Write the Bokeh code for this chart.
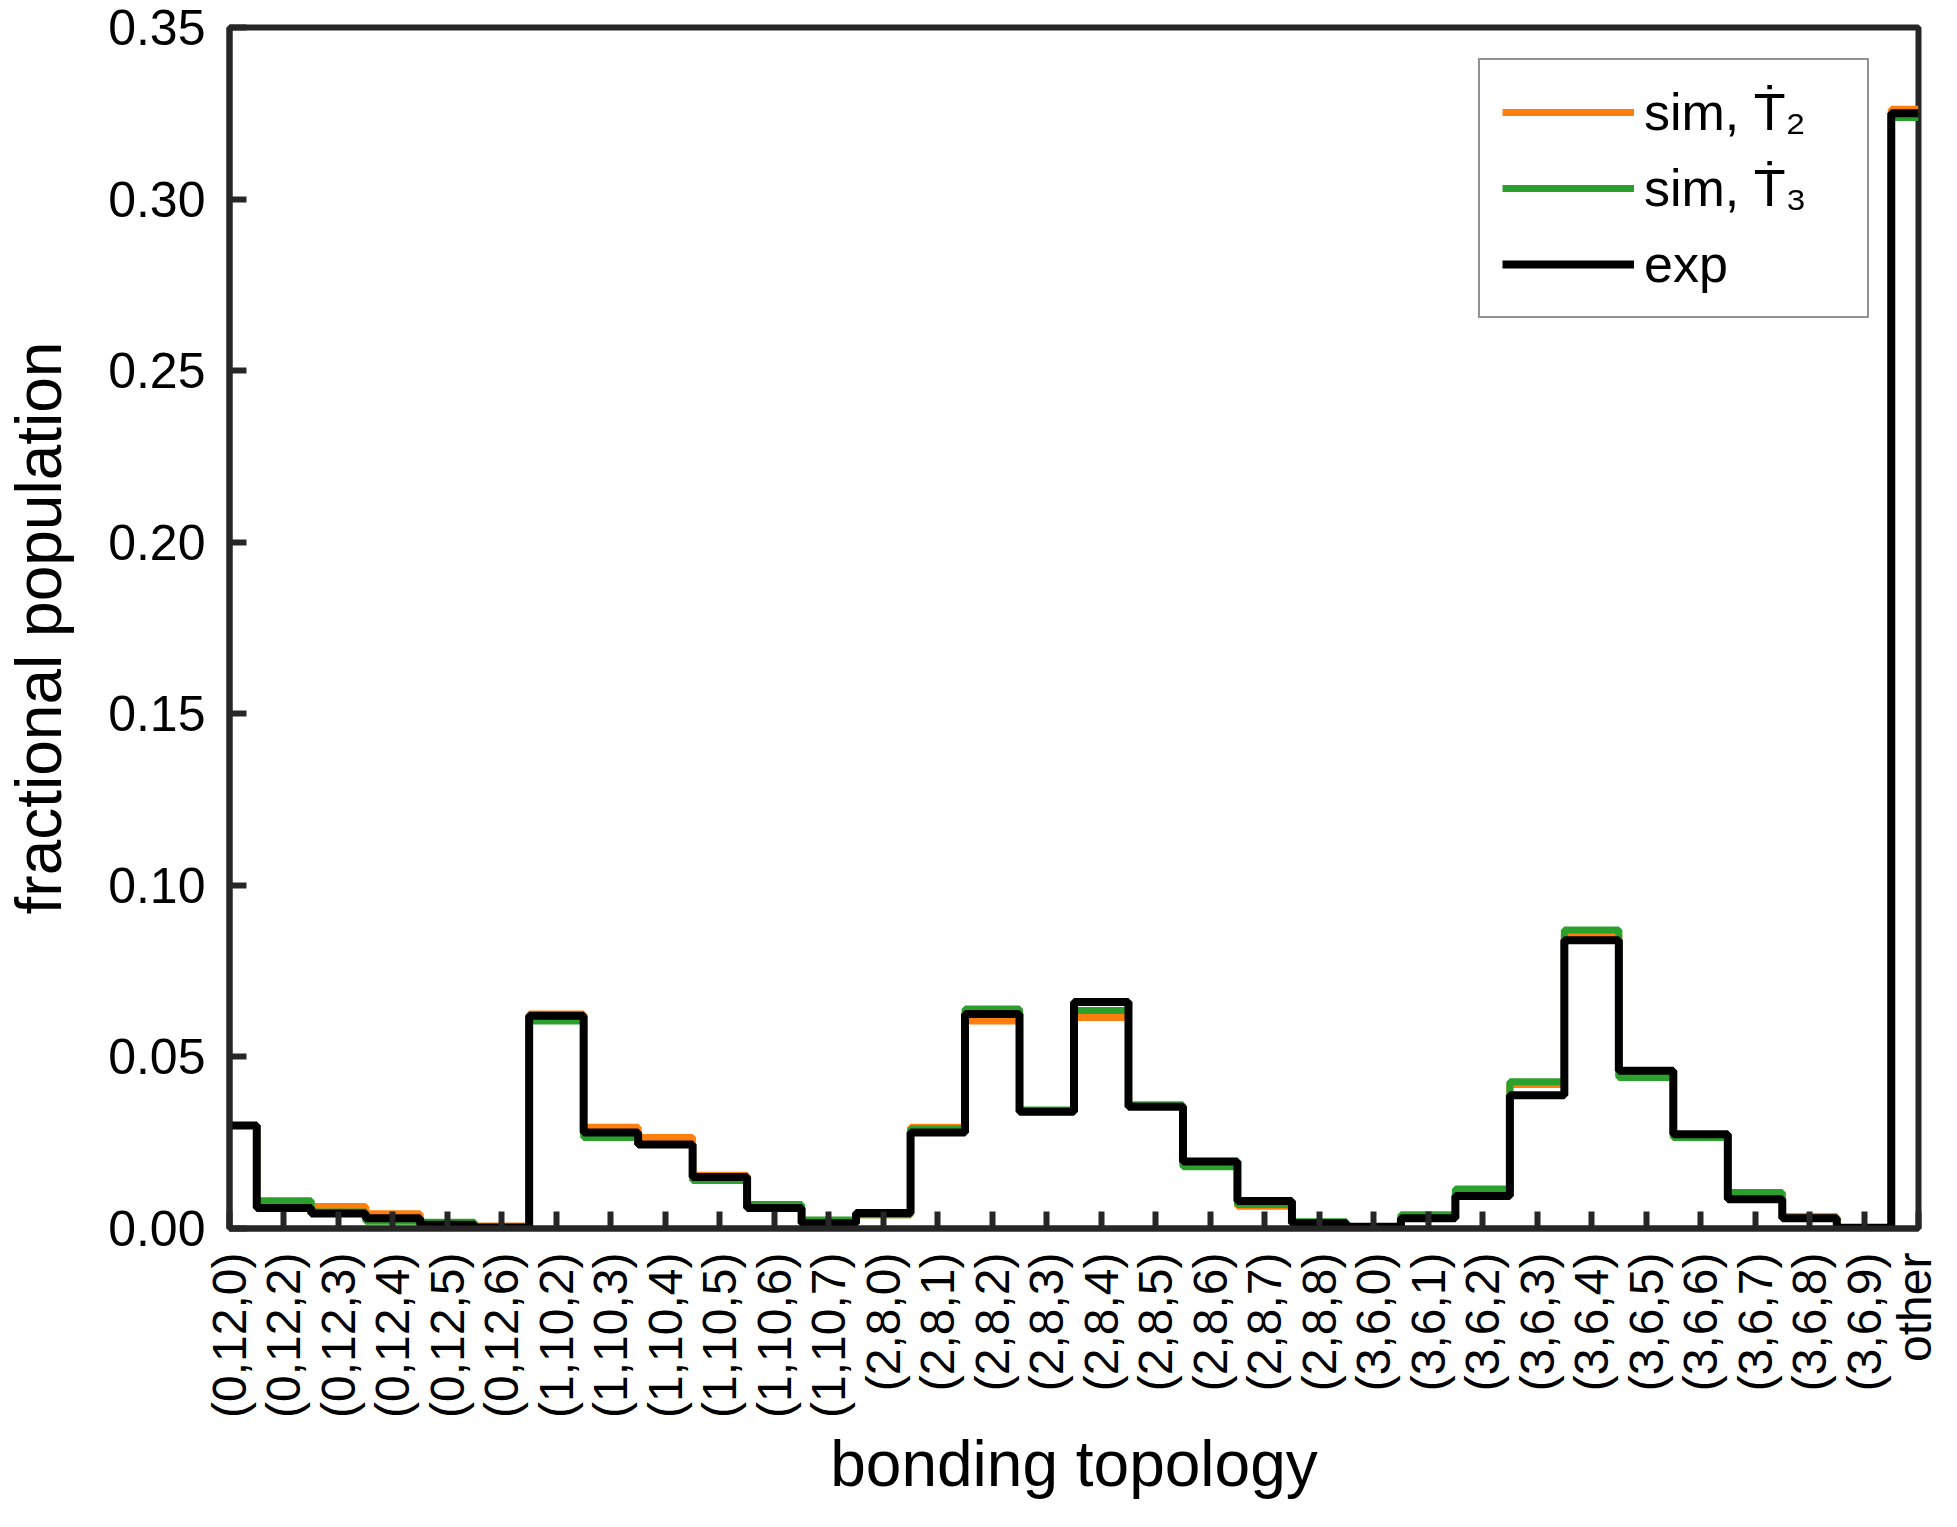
import numpy as np
from bokeh.plotting import figure
from bokeh.models import Range1d, FixedTicker, Legend, LegendItem
from bokeh.embed import file_html
from bokeh.resources import INLINE

categories = ["(0,12,0)", "(0,12,2)", "(0,12,3)", "(0,12,4)", "(0,12,5)", "(0,12,6)",
              "(1,10,2)", "(1,10,3)", "(1,10,4)", "(1,10,5)", "(1,10,6)", "(1,10,7)",
              "(2,8,0)", "(2,8,1)", "(2,8,2)", "(2,8,3)", "(2,8,4)", "(2,8,5)",
              "(2,8,6)", "(2,8,7)", "(2,8,8)",
              "(3,6,0)", "(3,6,1)", "(3,6,2)", "(3,6,3)", "(3,6,4)", "(3,6,5)",
              "(3,6,6)", "(3,6,7)", "(3,6,8)", "(3,6,9)", "other"]

sim_T2 = [0.0300, 0.0065, 0.0064, 0.0043, 0.0013, 0.0007,
          0.0625, 0.0295, 0.0265, 0.0155, 0.0065, 0.0020,
          0.0040, 0.0295, 0.0605, 0.0340, 0.0615, 0.0360,
          0.0185, 0.0065, 0.0015,
          0.0003, 0.0035, 0.0110, 0.0420, 0.0855, 0.0445,
          0.0265, 0.0095, 0.0035, 0.0002, 0.3262]

sim_T3 = [0.0300, 0.0081, 0.0048, 0.0021, 0.0018, 0.0002,
          0.0605, 0.0265, 0.0245, 0.0140, 0.0070, 0.0025,
          0.0040, 0.0290, 0.0640, 0.0345, 0.0635, 0.0360,
          0.0180, 0.0070, 0.0020,
          0.0002, 0.0040, 0.0115, 0.0428, 0.0870, 0.0440,
          0.0265, 0.0105, 0.0030, 0.0002, 0.3238]

exp = [0.0300, 0.0060, 0.0044, 0.0030, 0.0011, 0.0003,
       0.0620, 0.0280, 0.0245, 0.0150, 0.0060, 0.0015,
       0.0045, 0.0280, 0.0625, 0.0340, 0.0660, 0.0355,
       0.0195, 0.0080, 0.0015,
       0.0005, 0.0030, 0.0095, 0.0388, 0.0840, 0.0460,
       0.0275, 0.0085, 0.0030, 0.0002, 0.3250]

y_ticks = [0.0, 0.05, 0.10, 0.15, 0.20, 0.25, 0.30, 0.35]
y_tick_labels = ["0.00", "0.05", "0.10", "0.15", "0.20", "0.25", "0.30", "0.35"]

series_labels = ["sim, \u1E6A\u2082", "sim, \u1E6A\u2083", "exp"]
series_colors = ["#FF7F0E", "#2CA02C", "#000000"]

FONT = "Liberation Sans"
AX = "#262626"

x = list(range(1, len(categories) + 1))

p = figure(width=1940, height=1508, output_backend="svg", toolbar_location=None,
           x_range=Range1d(1, len(categories)), y_range=Range1d(0, 0.35),
           min_border_left=229, min_border_right=22, min_border_top=27,
           min_border_bottom=280)
p.background_fill_color = "white"
p.border_fill_color = "white"
p.grid.visible = False
p.outline_line_color = AX
p.outline_line_width = 6

renderers = []
for ys, col, lw in zip([sim_T2, sim_T3, exp], series_colors, [7, 7, 8]):
    r = p.step(x, ys, mode="center", line_width=lw, line_color=col)
    renderers.append(r)

# axes
for ax in (p.xaxis[0], p.yaxis[0]):
    ax.axis_line_width = 6
    ax.axis_line_color = AX
    ax.major_tick_in = 17
    ax.major_tick_out = 0
    ax.major_tick_line_width = 6
    ax.major_tick_line_color = AX
    ax.minor_tick_line_color = None
    ax.major_label_text_font = FONT
    ax.major_label_text_color = "black"
    ax.axis_label_text_font = FONT
    ax.axis_label_text_font_size = "64px"
    ax.axis_label_text_font_style = "normal"
    ax.axis_label_text_color = "black"
    ax.axis_label_text_line_height = 1.0

p.yaxis.ticker = FixedTicker(ticks=y_ticks)
p.yaxis.major_label_overrides = dict(zip(y_ticks, y_tick_labels))
p.yaxis.major_label_text_font_size = "50px"
p.yaxis.major_label_standoff = 24
p.yaxis.axis_label = "fractional population"
p.yaxis.axis_label_standoff = 30

p.xaxis.ticker = FixedTicker(ticks=x)
p.xaxis.major_label_overrides = dict(zip(x, categories))
p.xaxis.major_label_orientation = np.pi / 2
p.xaxis.major_label_text_font_size = "48px"
p.xaxis.major_label_standoff = 24
p.xaxis.axis_label = "bonding topology"
p.xaxis.axis_label_standoff = 7

legend = Legend(items=[LegendItem(label=l, renderers=[r])
                       for l, r in zip(series_labels, renderers)],
                location=(1249, 910), orientation="vertical")
legend.label_text_font = FONT
legend.label_text_font_size = "52px"
legend.label_text_color = "black"
legend.glyph_width = 132
legend.glyph_height = 60
legend.label_height = 60
legend.label_width = 201
legend.label_standoff = 10
legend.padding = 22
legend.spacing = 16
legend.margin = 0
legend.border_line_color = AX
legend.border_line_width = 2
legend.background_fill_color = "white"
legend.background_fill_alpha = 1
p.add_layout(legend)

open("out.html", "w").write(file_html(p, INLINE))
